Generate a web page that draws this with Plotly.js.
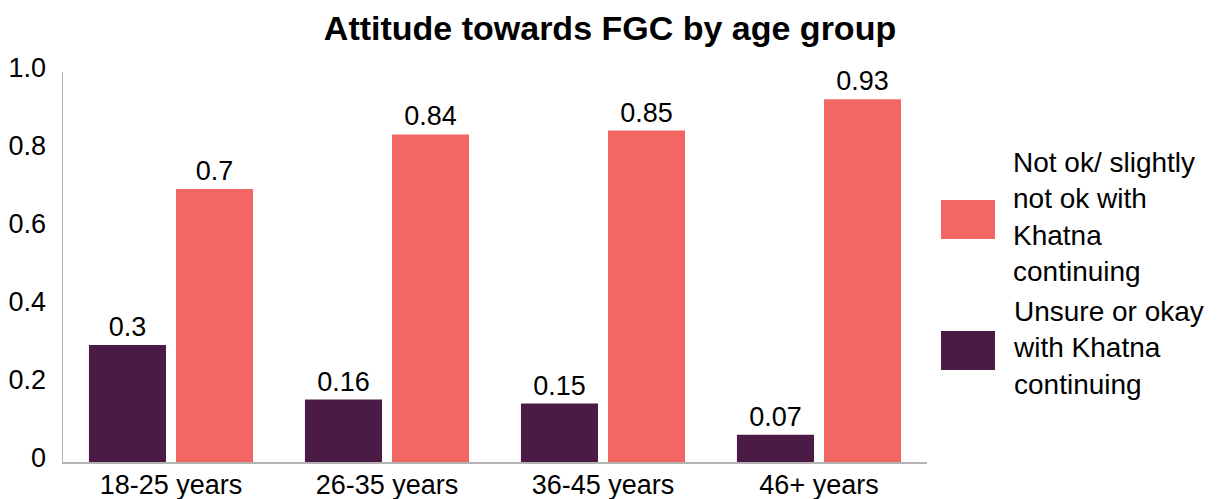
<!DOCTYPE html>
<html>
<head>
<meta charset="utf-8">
<script src="https://cdn.plot.ly/plotly-3.0.1.min.js"></script>
<style>
  html, body { margin: 0; padding: 0; background: #ffffff; }
  #chart { width: 1220px; height: 499px; }
</style>
</head>
<body>
<div id="chart"></div>
<script>
// Age groups along the x axis
const ageGroups = ['18-25 years', '26-35 years', '36-45 years', '46+ years'];

// Share of respondents in each attitude group
const unsureOrOkay = [0.3, 0.16, 0.15, 0.07];
const notOk = [0.7, 0.84, 0.85, 0.93];

// Series names
const nameNotOk = 'Not ok/ slightly<br>not ok with<br>Khatna<br>continuing';
const nameUnsure = 'Unsure or okay<br>with Khatna<br>continuing';

// Y axis ticks
const yTickVals = [0, 0.2, 0.4, 0.6, 0.8, 1.0];
const yTickText = ['0', '0.2', '0.4', '0.6', '0.8', '1.0'];

const colUnsure = '#4b1a45';
const colNotOk = '#f26764';
const fontFamily = '"Liberation Sans", Arial, Helvetica, sans-serif';

const W = 1220, H = 499;
const M = { l: 63, r: 293, t: 72, b: 37 };
const plotW = W - M.l - M.r, plotH = H - M.t - M.b;
const px = x => (x - M.l) / plotW;       // pixel -> paper x
const py = y => (H - M.b - y) / plotH;   // pixel -> paper y

const traces = [
  {
    type: 'bar', x: ageGroups, y: unsureOrOkay, name: nameUnsure,
    marker: { color: colUnsure },
    text: unsureOrOkay.map(String), textposition: 'outside',
    textfont: { size: 27, color: '#000000', family: fontFamily },
    cliponaxis: false, hoverinfo: 'x+y'
  },
  {
    type: 'bar', x: ageGroups, y: notOk, name: nameNotOk,
    marker: { color: colNotOk },
    text: notOk.map(String), textposition: 'outside',
    textfont: { size: 27, color: '#000000', family: fontFamily },
    cliponaxis: false, hoverinfo: 'x+y'
  }
];

// Hand-built legend with large swatches
const legendItems = [
  { color: colNotOk, label: nameNotOk, top: 200, bottom: 239 },
  { color: colUnsure, label: nameUnsure, top: 331, bottom: 370 }
];
const shapes = legendItems.map(it => ({
  type: 'rect', xref: 'paper', yref: 'paper',
  x0: px(941), x1: px(995), y0: py(it.bottom), y1: py(it.top),
  fillcolor: it.color, line: { width: 0 }
}));
const annotations = legendItems.map(it => ({
  xref: 'paper', yref: 'paper',
  x: px(1011), y: py((it.top + it.bottom) / 2 - 3),
  xanchor: 'left', yanchor: 'middle', align: 'left',
  text: it.label, showarrow: false,
  font: { size: 28, color: '#000000', family: fontFamily }
}));

const layout = {
  width: W, height: H,
  margin: M,
  paper_bgcolor: '#ffffff', plot_bgcolor: '#ffffff',
  font: { family: fontFamily, size: 27, color: '#000000' },
  title: {
    text: '<b>Attitude towards FGC by age group</b>',
    font: { family: fontFamily, size: 34, color: '#000000' },
    x: 0.5, xref: 'container', xanchor: 'center',
    y: 0.944, yref: 'container', yanchor: 'middle'
  },
  barmode: 'group',
  bargap: 0.194,
  bargroupgap: 0.115,
  showlegend: false,
  xaxis: {
    showline: true, linecolor: '#b3b3b3', linewidth: 1.5,
    showgrid: false, ticks: '', zeroline: false,
    ticklabelstandoff: -2,
    tickfont: { size: 27, color: '#000000', family: fontFamily }
  },
  yaxis: {
    range: [0, 1.0], tickvals: yTickVals, ticktext: yTickText,
    showline: true, linecolor: '#b3b3b3', linewidth: 1.5,
    showgrid: false, zeroline: false, ticks: '',
    ticklabelstandoff: 10, ticklabelshift: -4,
    tickfont: { size: 27, color: '#000000', family: fontFamily }
  },
  shapes: shapes,
  annotations: annotations
};

Plotly.newPlot('chart', traces, layout, { displayModeBar: false, staticPlot: true });
</script>
</body>
</html>
